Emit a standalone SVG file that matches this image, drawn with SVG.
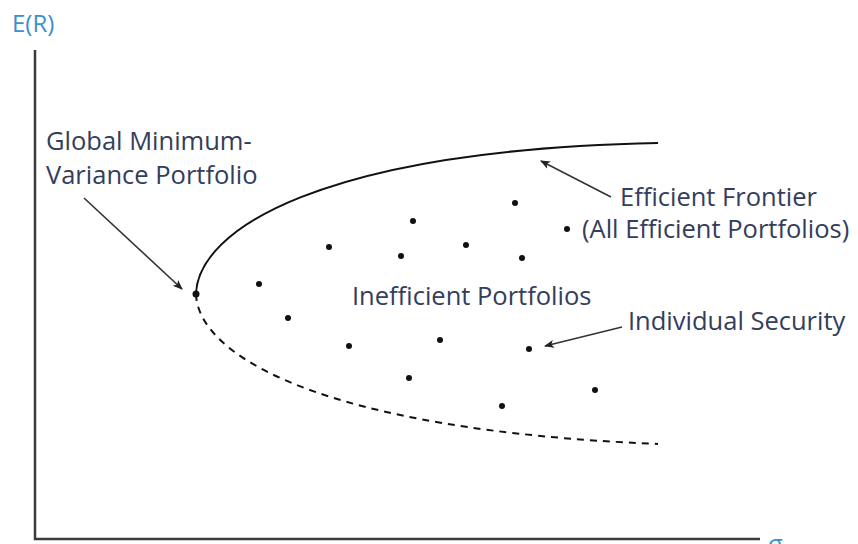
<svg xmlns="http://www.w3.org/2000/svg" width="858" height="544" viewBox="0 0 858 544">
<style>
.lbl{font-family:"Open Sans","Noto Sans",sans-serif;font-size:25.5px;fill:#333d5c}
.ax{font-family:"Open Sans","Noto Sans",sans-serif;font-size:24px;fill:#3a8fd0}
.axis{stroke:#3a3a3a;stroke-width:2.5;fill:none}
.arr{stroke:#333;stroke-width:1.6;fill:none;marker-end:url(#ah)}
.dot{fill:#111}
</style>
<defs>
<marker id="ah" viewBox="0 0 10 10" refX="9" refY="5" markerWidth="10" markerHeight="10" markerUnits="userSpaceOnUse" orient="auto">
<path d="M0,1 L10,5 L0,9 L2.5,5 Z" fill="#222"/>
</marker>
</defs>
<rect width="858" height="544" fill="#fff"/>
<g id="axes">
<path class="axis" d="M35,50 V539 H760"/>
<text class="ax" x="12" y="32">E(R)</text>
<text class="ax" x="768" y="552">σ</text>
</g>
<g id="frontier">
<path d="M196,294 C198,230 320,150 658,143" stroke="#111" stroke-width="2" fill="none"/>
<path d="M196,294 C198,355 320,430 658,444" stroke="#111" stroke-width="2" fill="none" stroke-dasharray="7,6"/>
</g>
<g id="dots">
<circle class="dot" cx="196" cy="294" r="3.5"/>
<circle class="dot" cx="259" cy="284" r="3"/>
<circle class="dot" cx="288" cy="318" r="3"/>
<circle class="dot" cx="329" cy="247" r="3"/>
<circle class="dot" cx="413" cy="221" r="3"/>
<circle class="dot" cx="401" cy="256" r="3"/>
<circle class="dot" cx="466" cy="245" r="3"/>
<circle class="dot" cx="515" cy="203" r="3"/>
<circle class="dot" cx="522" cy="258" r="3"/>
<circle class="dot" cx="567" cy="229" r="3"/>
<circle class="dot" cx="349" cy="346" r="3"/>
<circle class="dot" cx="440" cy="340" r="3"/>
<circle class="dot" cx="529" cy="349" r="3"/>
<circle class="dot" cx="409" cy="378" r="3"/>
<circle class="dot" cx="502" cy="406" r="3"/>
<circle class="dot" cx="595" cy="390" r="3"/>
</g>
<g id="gmv-label">
<text class="lbl" x="46" y="150"><tspan x="46" y="150">Global Minimum-</tspan><tspan x="46" y="184">Variance Portfolio</tspan></text>
</g>
<g id="ef-label">
<text class="lbl" x="620" y="206">Efficient Frontier</text>
<text class="lbl" x="582" y="238">(All Efficient Portfolios)</text>
</g>
<g id="ineff-label">
<text class="lbl" x="352" y="305">Inefficient Portfolios</text>
</g>
<g id="sec-label">
<text class="lbl" x="628" y="330">Individual Security</text>
</g>
<g id="connectors">
<path class="arr" d="M84,198 L182,289"/>
<path class="arr" d="M611,197 L541,161"/>
<path class="arr" d="M622,327 L545,346"/>
</g>
</svg>
